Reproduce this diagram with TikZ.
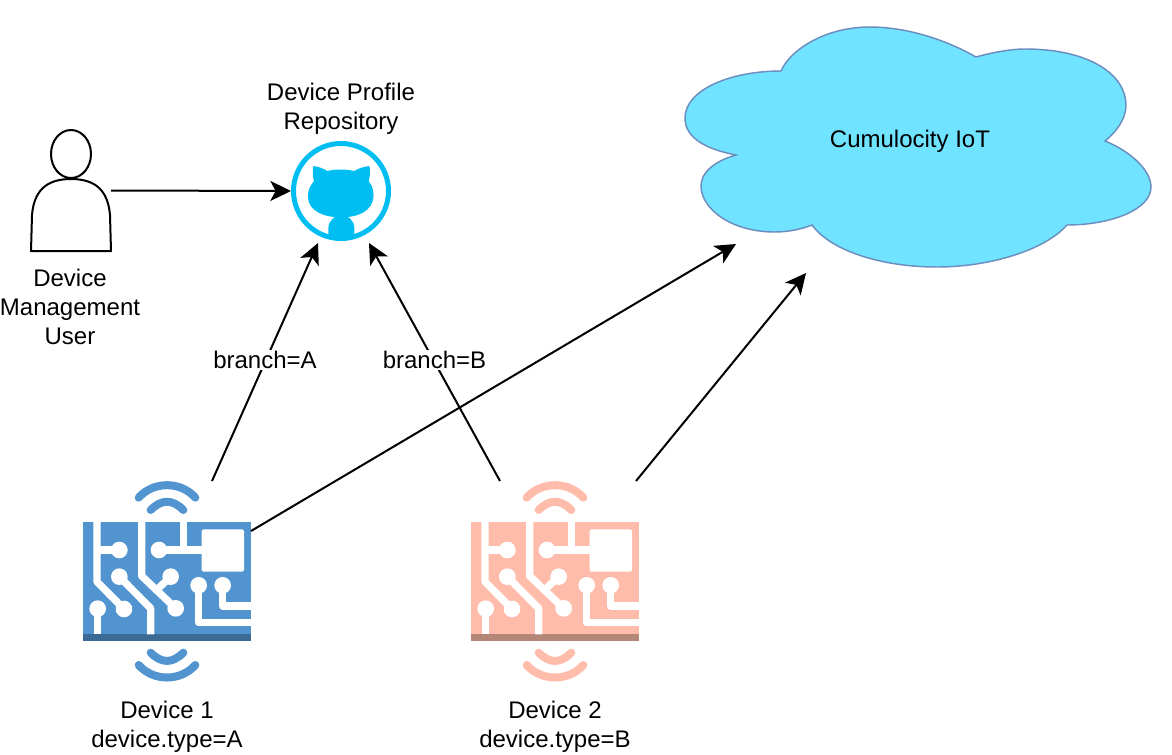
\documentclass[tikz,border=0pt]{standalone}
\usepackage{fontspec}
\setmainfont{Liberation Sans}
\usetikzlibrary{arrows.meta}
\definecolor{cloudfill}{HTML}{6FE3FF}
\definecolor{cloudline}{HTML}{6C8EBF}
\definecolor{hubblue}{HTML}{00BEF2}
\definecolor{devA}{HTML}{5294CF}
\definecolor{devAdark}{HTML}{3B6A94}
\definecolor{devB}{HTML}{FFBCAB}
\definecolor{devBdark}{HTML}{B38678}
\tikzset{
  conn/.style={line width=1.5pt,-{Stealth[length=15.5pt,width=15pt,inset=4pt]}},
  lbl/.style={font=\fontsize{18pt}{21.75pt}\selectfont,align=center,inner sep=0pt,outer sep=0pt},
  edgelbl/.style={lbl,fill=white,inner xsep=1pt,inner ysep=1pt},
  box/.style={rectangle,inner sep=0pt,outer sep=0pt},
  person/.style={draw=black,line width=1.5pt,fill=white,line join=round},
  trace/.style={draw=white,line width=5.5pt,line join=round},
  wave/.style={line width=6pt,line cap=round}
}
\newcommand{\devicedraw}[3]{%
  \begin{scope}[shift={(#1,470)},x=.25pt,y=-.25pt]
    \fill[#2] (69,156) rectangle (573,514);
    \fill[#3] (69,493) rectangle (573,514);
    \draw[wave,#2] (236,83) .. controls (280,33) and (362,33) .. (406,83);
    \draw[wave,#2] (272,120) .. controls (305,87) and (337,87) .. (370,120);
    \draw[wave,#2] (272,548) .. controls (305,581) and (337,581) .. (370,548);
    \draw[wave,#2] (236,585) .. controls (280,635) and (362,635) .. (406,585);
    \draw[trace] (111,156) -- (111,335) -- (192,417);
    \draw[trace] (111,240) -- (178,240);
    \draw[trace] (113,416) -- (113,493);
    \draw[trace] (178,320) -- (272,415) -- (272,493);
    \draw[trace] (245,156) -- (245,318) -- (347,415);
    \draw[trace] (332,320) -- (295,355);
    \draw[trace] (297,240) -- (425,240);
    \draw[trace] (371,156) -- (371,240);
    \draw[trace] (416,346) -- (416,458) -- (573,458);
    \draw[trace] (488,346) -- (488,408) -- (573,408);
    \fill[white,rounded corners=1.2pt] (425,178) rectangle (552,305);
    \foreach \cx/\cy in {192/417,178/240,113/416,178/320,347/415,332/320,297/240,416/346,488/346}
      \fill[white] (\cx,\cy) circle (25);
  \end{scope}}
\begin{document}
\begin{tikzpicture}[x=.75pt,y=-.75pt]
\useasboundingbox (0,0) rectangle (1172,754);
% cloud
\path[fill=cloudfill,draw=cloudline,line width=1.1pt,line join=miter]
  (736,155) .. controls (700,148) and (685,135) .. (685,118)
  .. controls (685,90) and (730,71) .. (781,71)
  .. controls (790,50) and (825,27) .. (870,27)
  .. controls (910,27) and (950,42) .. (976,57)
  .. controls (990,53) and (1010,49) .. (1025,49)
  .. controls (1090,49) and (1126,75) .. (1126,105)
  .. controls (1126,120) and (1115,133) .. (1105,141)
  .. controls (1130,151) and (1151,170) .. (1151,187)
  .. controls (1151,210) and (1110,225) .. (1067,225)
  .. controls (1045,250) and (990,267) .. (937,267)
  .. controls (880,267) and (830,250) .. (812,225)
  .. controls (800,230) and (785,232) .. (775,232)
  .. controls (730,232) and (701,208) .. (701,186)
  .. controls (701,172) and (715,161) .. (736,155) -- cycle;
\node[lbl] (cloud) at (910,141) {Cumulocity IoT};
% anchor nodes
\node[box,minimum width=60pt,minimum height=90.75pt] (user) at (71,190.5) {};
\node[circle,minimum size=75pt,inner sep=0pt,outer sep=0pt] (repo) at (341,191) {};
\coordinate (repoL) at (318,243);
\coordinate (repoR) at (369,243);
\coordinate (cloudA) at (736,244);
\coordinate (cloudB) at (806,273);
\coordinate (dev1top) at (212,481);
\coordinate (dev1side) at (251,531);
\coordinate (dev2top) at (500,481);
\coordinate (dev2side) at (636,481);
% person
\path[person] (31,251) -- (32,215) .. controls (34,192) and (45,179) .. (71,179)
  .. controls (97,179) and (108,192) .. (110,215) -- (111,251) -- cycle;
\path[person] (71,154) ellipse [x radius=20,y radius=24];
% repository icon
\begin{scope}[shift={(270,130)},x=.25pt,y=-.25pt]
  \fill[hubblue] (130,108) .. controls (145,110) and (160,115) .. (172,123)
    .. controls (195,117) and (228,117) .. (252,123)
    .. controls (265,115) and (282,110) .. (298,108)
    .. controls (302,125) and (300,140) .. (296,153)
    .. controls (310,170) and (312,190) .. (310,205)
    .. controls (305,240) and (270,262) .. (213,262)
    .. controls (155,262) and (118,240) .. (114,205)
    .. controls (112,185) and (118,170) .. (132,153)
    .. controls (128,140) and (127,125) .. (130,108) -- cycle;
  \fill[hubblue] (175,322) -- (175,295) .. controls (175,272) and (195,255) .. (213,255)
    .. controls (235,255) and (253,272) .. (253,295) -- (253,322) -- cycle;
\end{scope}
\draw[hubblue,line width=3.75pt] (repo.center) circle (47.5);
% devices
\devicedraw{60}{devA}{devAdark}
\devicedraw{448}{devB}{devBdark}
% connectors
\draw[conn] (user.east) -- (repo.west);
\draw[conn] (dev1top) -- node[edgelbl,pos=.5,yshift=1.5pt] (la) {branch=A} (repoL);
\draw[conn] (dev2top) -- node[edgelbl,pos=.5,yshift=1.5pt] (lb) {branch=B} (repoR);
\draw[conn] (dev1side) -- (cloudA);
\draw[conn] (dev2side) -- (cloudB);
% labels
\node[lbl] (repolabel) at (341,109) {Device Profile\\Repository};
\node[lbl] (userlabel) at (70,307) {Device\\Management\\User};
\node[lbl] (d1label) at (167,727) {Device 1\\device.type=A};
\node[lbl] (d2label) at (555,727) {Device 2\\device.type=B};
\end{tikzpicture}
\end{document}
